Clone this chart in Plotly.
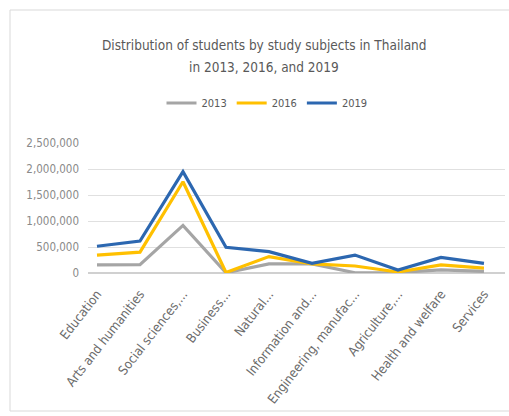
import plotly.graph_objects as go

categories = ["Education", "Arts and humanities", "Social sciences,...", "Business...", "Natural...",
              "Information and...", "Engineering, manufac...", "Agriculture,...", "Health and welfare", "Services"]
y2013 = [155000, 160000, 915000, 5000, 175000, 175000, 5000, 10000, 60000, 30000]
y2016 = [345000, 400000, 1755000, 10000, 315000, 175000, 135000, 20000, 155000, 95000]
y2019 = [515000, 615000, 1950000, 495000, 410000, 185000, 345000, 58000, 300000, 185000]
tick_vals = [0, 500000, 1000000, 1500000, 2000000, 2500000]
tick_text = ["0", "500,000", "1,000,000", "1,500,000", "2,000,000", "2,500,000"]
title_lines = ["Distribution of students by study subjects in Thailand", "in 2013, 2016, and 2019"]

FONT = "DejaVu Sans Condensed, Liberation Sans Narrow, Arial Narrow, sans-serif"

fig = go.Figure()
for name, ys, col in [("2013", y2013, "#a5a5a5"), ("2016", y2016, "#ffc000"), ("2019", y2019, "#2c67b0")]:
    fig.add_trace(go.Scatter(x=categories, y=ys, mode="lines", name=name,
                             line=dict(color=col, width=3.2)))

L, R, T, B = 88, 4, 143, 143
W, H = 509, 416
pw, ph = W - L - R, H - T - B
fig.add_shape(type="rect", xref="paper", yref="paper",
              x0=(10 - L) / pw, x1=(530 - L) / pw,
              y0=(H - B - 411) / ph, y1=(H - B - 10) / ph,
              line=dict(color="#d9d9d9", width=1), layer="below")

for txt, ypx in zip(title_lines, [45, 67]):
    fig.add_annotation(text=txt, xref="paper", yref="paper",
                       x=(264 - L) / pw, y=(H - B - ypx) / ph,
                       xanchor="center", yanchor="middle", showarrow=False,
                       font=dict(family=FONT, size=13.5, color="#595959"))

fig.update_layout(
    width=W, height=H, margin=dict(l=L, r=R, t=T, b=B),
    paper_bgcolor="white", plot_bgcolor="white",
    font=dict(family=FONT, color="#595959"),
    legend=dict(orientation="h", x=(267 - L) / pw, xanchor="center", xref="paper",
                y=(H - B - 103) / ph, yanchor="middle", yref="paper",
                font=dict(family=FONT, size=11, color="#595959"),
                itemwidth=30, tracegroupgap=0),
    showlegend=True,
)
fig.update_xaxes(showgrid=False, showline=False, tickangle=-52,
                 tickfont=dict(family=FONT, size=13, color="#6b6b6b"),
                 range=[-0.209, 9.489], ticks="", ticklabelstandoff=10)
fig.update_yaxes(range=[0, 2500000], tickvals=tick_vals, ticktext=tick_text,
                 gridcolor="#e0e0e0", gridwidth=1, zeroline=True, zerolinecolor="#d0d0d0",
                 tickfont=dict(family=FONT, size=11.5, color="#8a8a8a"), ticks="", ticklabelstandoff=8)

fig.write_html("out.html")
